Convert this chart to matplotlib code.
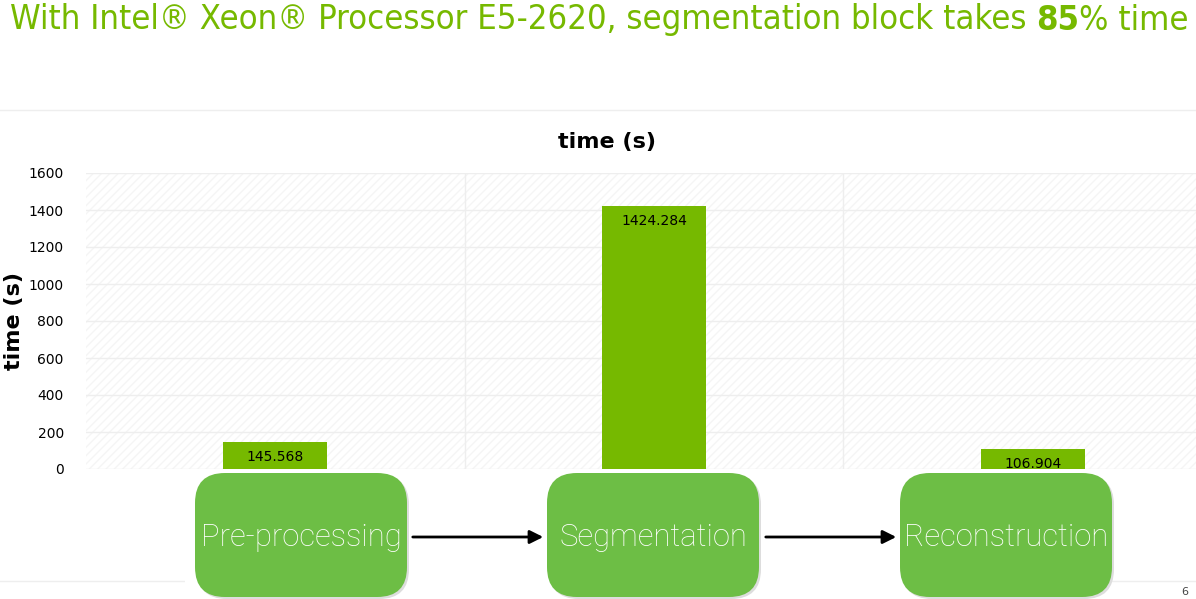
import matplotlib
matplotlib.use("Agg")
import matplotlib.pyplot as plt
from matplotlib.patches import FancyBboxPatch, FancyArrowPatch
from matplotlib.lines import Line2D

categories = ["Pre-processing", "Segmentation", "Reconstruction"]
times = [145.568, 1424.284, 106.904]
yticks = [0, 200, 400, 600, 800, 1000, 1200, 1400, 1600]

green = "#76b900"
box_green = "#6dbe45"

fig = plt.figure(figsize=(11.96, 5.99), dpi=100)
W, H = 1196, 599

# slide title, in three pieces so "85" can be bold
ty = 1 - 20 / H
xpos = 10
for part, wt in [("With Intel\u00ae Xeon\u00ae Processor E5-2620, segmentation block takes ", "normal"),
                 ("85", "bold"), ("% time", "normal")]:
    t = fig.text(xpos / W, ty, part, color=green, fontsize=24.8, va="center", ha="left",
                 fontweight=wt, fontstretch="condensed")
    fig.canvas.draw()
    xpos = t.get_window_extent().x1

# separator lines
fig.add_artist(Line2D([0, 1], [1 - 110 / H] * 2, color="#eeeeee", lw=1))
fig.add_artist(Line2D([0, 1], [1 - 581 / H] * 2, color="#eeeeee", lw=1))

ax = fig.add_axes([86 / W, 1 - 469 / H, (1222 - 86) / W, (469 - 173) / H])
ax.set_facecolor("white")
ax.patch.set_hatch("////")
ax.patch.set_edgecolor("#f5f5f5")
ax.patch.set_linewidth(0)

x = list(range(len(categories)))
ax.bar(x, times, width=0.275, color=green, zorder=3)
for xi, v in zip(x, times):
    ax.text(xi, v - 82, f"{v:.3f}", ha="center", va="center", fontsize=10, color="black", zorder=4)

ax.set_xlim(-0.5, 2.5)
ax.set_ylim(0, 1600)
ax.set_yticks(yticks)
ax.set_yticklabels([str(v) for v in yticks], fontsize=10)
ax.set_xticks([])
for xv in [0.5, 1.5]:
    ax.axvline(xv, color="#eeeeee", lw=1, zorder=1)
ax.grid(axis="y", color="#eeeeee", lw=1, zorder=1)
ax.tick_params(axis="y", length=0, pad=16)
for s in ax.spines.values():
    s.set_visible(False)
ax.set_title("time (s)", fontsize=16, fontweight="bold", x=(607 - 86) / (1222 - 86), y=1.0, pad=18)
ax.set_ylabel("time (s)", fontsize=16, fontweight="bold", va="center")
ax.yaxis.set_label_coords(-72 / (1222 - 86), 0.5)

# white cover under the boxes
fig.add_artist(FancyBboxPatch((185 / W, 0), (1055 - 185) / W, 1 - 470 / H,
                              boxstyle="square,pad=0", fc="white", ec="none", zorder=5))

# process blocks
box_x = [195, 547, 900]
box_w = 212
bt, bb = 473, 597
for bx, name in zip(box_x, categories):
    fig.add_artist(FancyBboxPatch(((bx + 2) / W, (1 - bb / H) - 2 / H), box_w / W, (bb - bt) / H,
                                  boxstyle="round,pad=0,rounding_size=0.025", fc="#dddddd",
                                  ec="none", zorder=6, mutation_aspect=W / H))
    fig.add_artist(FancyBboxPatch((bx / W, 1 - bb / H), box_w / W, (bb - bt) / H,
                                  boxstyle="round,pad=0,rounding_size=0.025", fc=box_green,
                                  ec="none", zorder=7, mutation_aspect=W / H))
    fig.text((bx + box_w / 2) / W, 1 - 537 / H, name, ha="center", va="center",
             color="white", fontsize=22.3, family="Roboto", fontweight="light", zorder=8)

for x0, x1 in [(410, 546), (763, 899)]:
    fig.add_artist(FancyArrowPatch((x0 / W, 1 - 537 / H), (x1 / W, 1 - 537 / H),
                                   arrowstyle="-|>,head_length=8,head_width=4",
                                   color="black", lw=2, zorder=8, transform=fig.transFigure))

fig.text(1185 / W, 1 - 592 / H, "6", fontsize=8, color="#444444", ha="center", va="center")

fig.savefig("out.png", dpi=100)
